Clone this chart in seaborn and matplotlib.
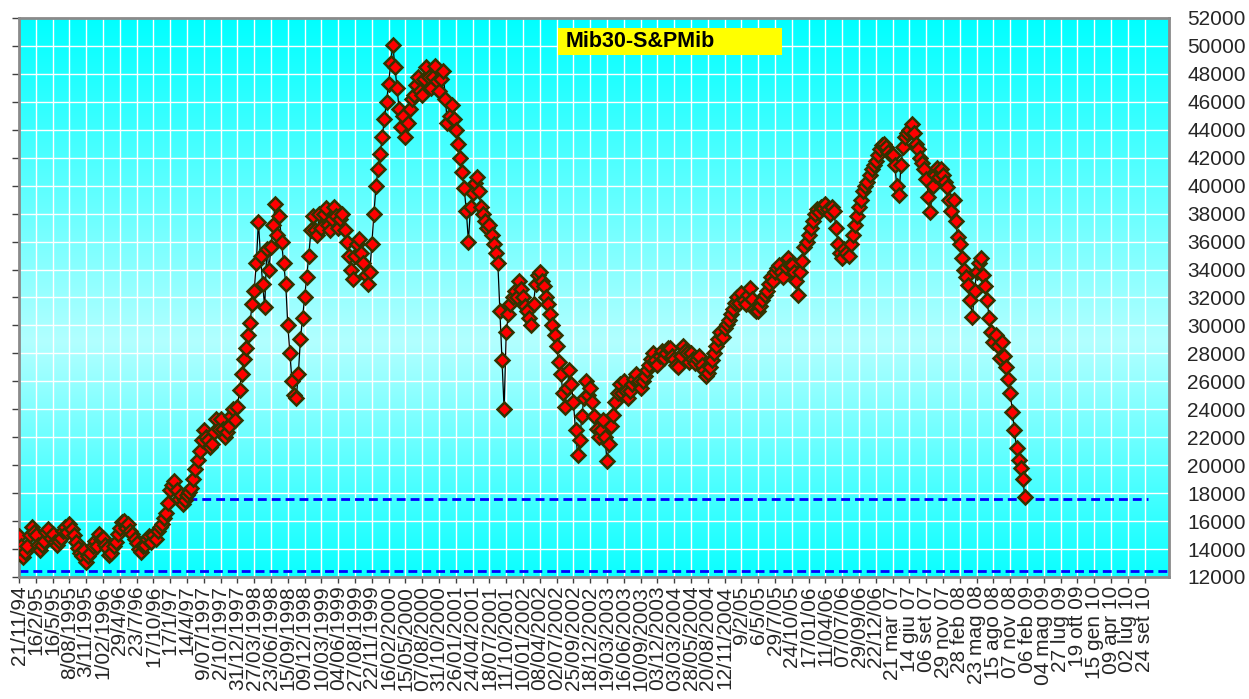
import numpy as np
import pandas as pd
import matplotlib
matplotlib.use("Agg")
import matplotlib.pyplot as plt
import seaborn as sns
from matplotlib.patches import Rectangle

# ---------------- data ----------------
date_labels = [
    "21/11/94", "16/2/95", "16/5/95", "8/08/1995", "3/11/1995", "1/02/1996",
    "29/4/96", "23/7/96", "17/10/96", "17/1/97", "14/4/97", "9/07/1997",
    "2/10/1997", "31/12/1997", "27/03/1998", "23/06/1998", "15/09/1998",
    "09/12/1998", "10/03/1999", "04/06/1999", "27/08/1999", "22/11/1999",
    "16/02/2000", "15/05/2000", "07/08/2000", "31/10/2000", "26/01/2001",
    "24/04/2001", "18/07/2001", "11/10/2001", "10/01/2002", "08/04/2002",
    "02/07/2002", "25/09/2002", "18/12/2002", "19/03/2003", "16/06/2003",
    "10/09/2003", "03/12/2003", "03/03/2004", "28/05/2004", "20/08/2004",
    "12/11/2004", "9/2/05", "6/5/05", "29/7/05", "24/10/05", "17/01/06",
    "11/04/06", "07/07/06", "29/09/06", "22/12/06", "21 mar 07", "14 giu 07",
    "06 set 07", "29 nov 07", "28 feb 08", "23 mag 08", "15 ago 08",
    "07 nov 08", "06 feb 09", "04 mag 09", "27 lug 09", "19 ott 09",
    "15 gen 10", "09 apr 10", "02 lug 10", "24 set 10",
]

# index level, eight readings per labelled interval
index_values = [
    14900, 14200, 13400, 13800, 14200, 15000, 15600, 15200,
    15000, 14300, 13900, 14300, 14600, 15200, 15400, 14800,
    15100, 14500, 14300, 14600, 14800, 15300, 15600, 15200,
    15800, 15400, 15000, 14500, 14100, 13700, 13500, 13900,
    13100, 13500, 13700, 14200, 14600, 14200, 15100, 14700,
    14800, 14300, 14100, 13600, 13700, 14200, 14500, 15100,
    15500, 15900, 16000, 15500, 15800, 15300, 15100, 14700,
    14400, 14000, 13800, 14200, 14300, 14700, 14900, 14500,
    15000, 14700, 15300, 15600, 15800, 16200, 16600, 17300,
    18200, 18600, 18900, 18200, 17600, 17900, 17200, 17500,
    17900, 18100, 18400, 19000, 19700, 20400, 21000, 21800,
    22500, 22000, 21800, 21300, 21500, 22400, 23300, 22600,
    23300, 22600, 22000, 22400, 22800, 23500, 24000, 23200,
    24200, 25400, 26500, 27600, 28400, 29300, 30200, 31500,
    32500, 34500, 37400, 35000, 33000, 31300, 35500, 34000,
    35600, 37200, 38700, 36500, 37800, 36000, 34500, 33000,
    30000, 28000, 26000, 25000, 24800, 26500, 29000, 30500,
    32000, 33500, 35000, 36800, 37800, 36800, 36500, 38000,
    37000, 38000, 38400, 37200, 36800, 37600, 38500, 37800,
    37000, 37600, 38000, 36800, 36000, 35000, 34000, 33300,
    35000, 35800, 36200, 35200, 34500, 33600, 33000, 33800,
    35800, 38000, 40000, 41200, 42300, 43500, 44800, 46000,
    47300, 48800, 50100, 48500, 47000, 45500, 44200, 45000,
    43500, 44500, 45500, 46200, 46500, 47200, 47800, 46800,
    46500, 47600, 48500, 47800, 47000, 47800, 48600, 47500,
    46800, 47600, 48200, 46200, 44500, 45000, 45800, 44800,
    44000, 43000, 42000, 41000, 39800, 38200, 36000, 38500,
    39500, 40200, 40600, 39600, 38500, 38000, 37500, 37000,
    37200, 36500, 35800, 35200, 34500, 31000, 27500, 24000,
    29500, 30800, 31500, 32000, 32500, 32000, 33200, 32600,
    32000, 31400, 31000, 30500, 30000, 31500, 33000, 33600,
    33800, 33200, 32800, 32000, 31500, 30800, 30000, 29300,
    28500, 27400, 26500, 25200, 24200, 25500, 26800, 25800,
    24500, 22500, 20700, 21800, 23500, 24800, 26000, 25000,
    25500, 24500, 23500, 22600, 22000, 22500, 23200, 22000,
    20300, 21500, 22800, 23600, 24500, 25200, 25800, 25200,
    26000, 25300, 24800, 25300, 25800, 26200, 26500, 26000,
    25500, 26000, 26400, 26800, 27200, 27600, 28000, 27500,
    27200, 27800, 28200, 27700, 28000, 28400, 28400, 27800,
    27600, 27200, 27000, 27800, 28500, 28200, 28000, 27400,
    28000, 27600, 27300, 27600, 27800, 27200, 26800, 26400,
    26600, 27000, 27500, 28000, 28500, 29000, 29500, 29200,
    29800, 30100, 30400, 30800, 31200, 31600, 32000, 31600,
    32300, 31800, 31500, 32200, 32700, 31900, 31200, 31000,
    31000, 31400, 31800, 32200, 32500, 33000, 33500, 33200,
    33800, 34100, 34300, 33800, 33500, 34200, 34800, 34300,
    34300, 33800, 33200, 32200, 33800, 34600, 35600, 36000,
    36500, 37000, 37500, 38000, 38300, 38100, 38500, 38400,
    38700, 38300, 38000, 38500, 38200, 37000, 35800, 35200,
    34800, 35500, 35200, 35000, 35800, 36500, 37200, 37800,
    38500, 39000, 39600, 40000, 40300, 40800, 41200, 41500,
    41800, 42200, 42600, 42900, 43000, 42800, 42400, 42200,
    42200, 41500, 40000, 39300, 41500, 42800, 43500, 43800,
    44000, 44400, 43800, 43000, 42600, 42000, 41600, 41200,
    40500, 39200, 38100, 40000, 40800, 41300, 40600, 41200,
    40800, 40300, 39900, 39000, 38200, 39000, 37500, 36300,
    35800, 34800, 34000, 33500, 32900, 31800, 30600, 32500,
    33800, 34500, 34800, 33600, 32800, 31800, 30500, 29500,
    28800, 29300, 28500, 27700, 28800, 27800, 27000, 26200,
    25200, 23800, 22500, 21200, 20400, 19800, 19000, 17700,
]
readings_per_label = 8

ref_levels = [12400, 17600]
ref_start = [0.0, 9.2]     # category positions
ref_end = [68.45, 67.2]

y_ticks = list(range(12000, 52001, 2000))
title_text = "Mib30-S&PMib"

# ---------------- style ----------------
sns.set_style("white")
plt.rcParams['font.family'] = ['Liberation Sans', 'DejaVu Sans']

W, H = 1249, 699
fig = plt.figure(figsize=(W / 100, H / 100), dpi=100)
fig.patch.set_facecolor("white")
L, R, T, B = 19, 1169, 18, 577
rect = [L / W, 1 - B / H, (R - L) / W, (B - T) / H]

# gradient background
bg = fig.add_axes(rect, zorder=0)
t = np.linspace(0, 1, 400)
red = np.interp(t, [0, 0.58, 1], [0, 178, 10]) / 255.0
grad = np.zeros((400, 1, 3))
grad[:, 0, 0] = red
grad[:, 0, 1] = 1.0
grad[:, 0, 2] = 1.0
bg.imshow(grad, aspect="auto", extent=[0, 1, 0, 1], interpolation="bilinear")
bg.set_axis_off()

ax = fig.add_axes(rect, zorder=1)
ax.set_facecolor("none")

df = pd.DataFrame({
    "pos": np.arange(len(index_values)) / readings_per_label,
    "value": index_values,
})

ax.set_axisbelow(True)
ax.grid(True, color="white", linewidth=1.0)

for lvl, x0, x1 in zip(ref_levels, ref_start, ref_end):
    ax.plot([x0, x1], [lvl, lvl], color="#0000ff", linewidth=2,
            dashes=(3.2, 1.8), zorder=2)

sns.lineplot(data=df, x="pos", y="value", ax=ax, sort=False, estimator=None,
             color="black", linewidth=0.9, marker="D", markersize=7,
             markerfacecolor="#ff0000", markeredgecolor="#333300",
             markeredgewidth=1.8, zorder=3)

ax.set_xlim(0, 68.45)
ax.set_ylim(12000, 52000)
ax.set_xlabel("")
ax.set_ylabel("")

ax.set_xticks(range(len(date_labels)))
ax.set_xticklabels(date_labels, rotation=90, fontsize=15)
ax.tick_params(axis="x", direction="out", length=4.3, width=1, color="#404040",
               pad=2, bottom=True)
ax.set_yticks(y_ticks)
ax.set_yticklabels([str(v) for v in y_ticks], fontsize=15)
ax.tick_params(axis="y", direction="out", length=5, width=1, color="#404040",
               left=True, right=False, labelleft=False, labelright=True, pad=8)

for s in ax.spines.values():
    s.set_color("#8a8a8a")
    s.set_linewidth(2)

# title box
ax.add_patch(Rectangle(((558 - L) / (R - L), (B - 55) / (B - T)),
                       224 / (R - L), 27 / (B - T), transform=ax.transAxes,
                       facecolor="#ffff00", edgecolor="none", zorder=4))
ax.text((566 - L) / (R - L), (B - 41.5) / (B - T), title_text,
        transform=ax.transAxes, fontsize=15.5, fontweight="bold",
        ha="left", va="center", color="black", zorder=5)

fig.savefig("out.png", dpi=100)
